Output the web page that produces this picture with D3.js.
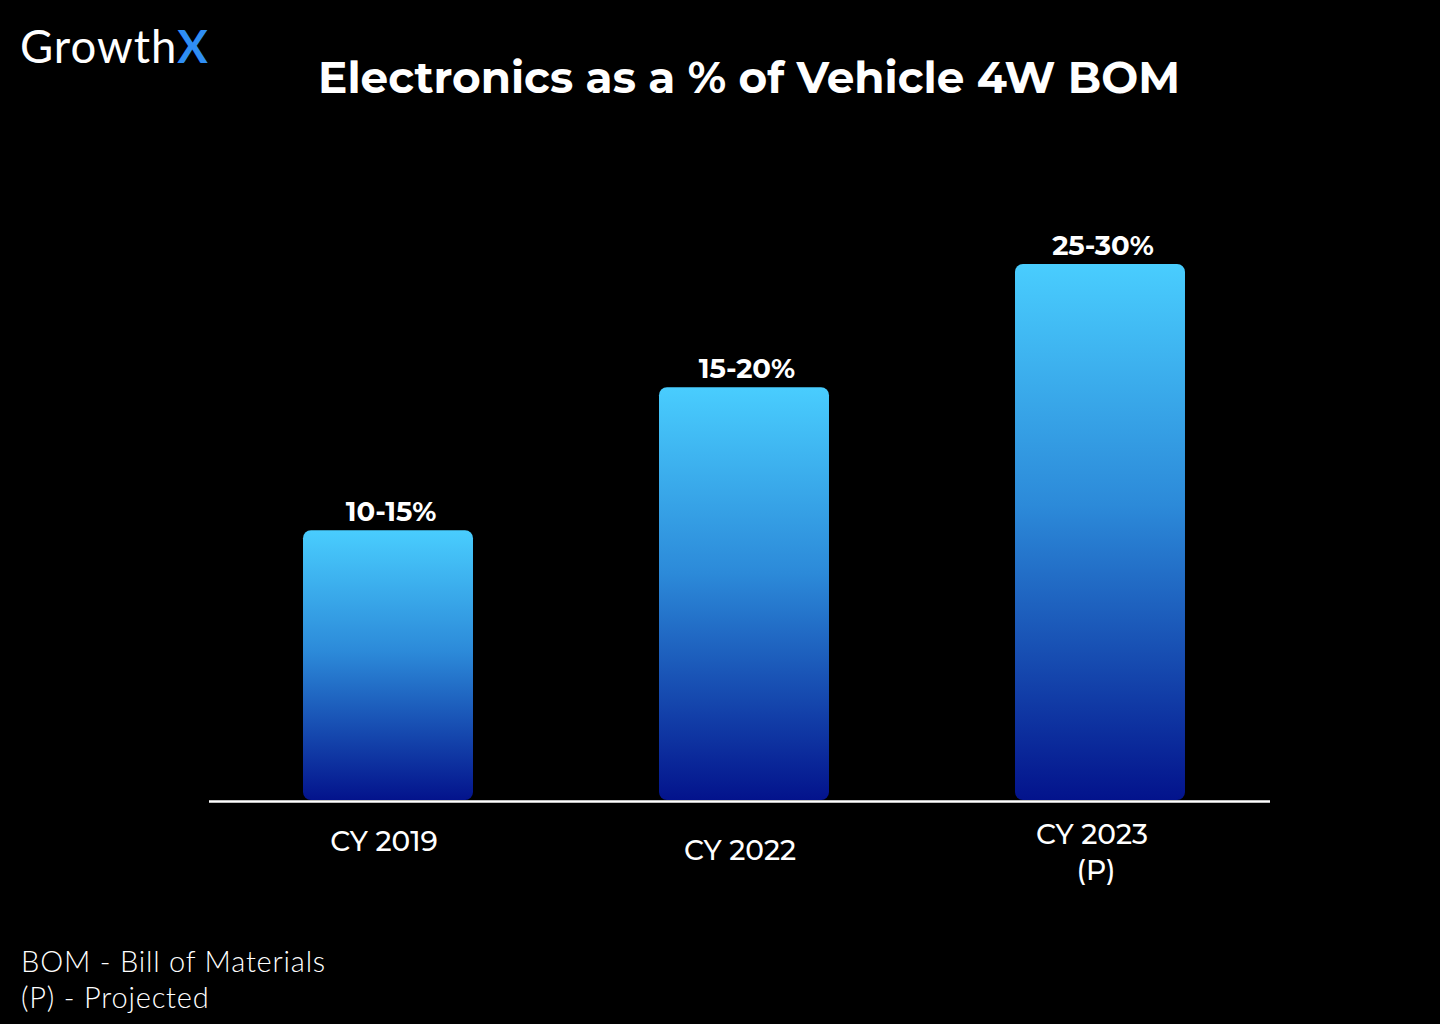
<!DOCTYPE html>
<html>
<head>
<meta charset="utf-8">
<script src="https://cdn.jsdelivr.net/npm/d3@7"></script>
<style>
  html, body { margin: 0; padding: 0; background: #000; }
  svg { display: block; }
</style>
</head>
<body>
<svg id="chart" width="1440" height="1024"></svg>
<script>
// ---- data ----
const categories = ["CY 2019", "CY 2022", "CY 2023\n(P)"];
const values = [15.1, 23.1, 30];            // bar heights (relative)
const valueLabels = ["10-15%", "15-20%", "25-30%"];
const title = "Electronics as a % of Vehicle 4W BOM";
const footnotes = ["BOM - Bill of Materials", "(P) - Projected"];

// ---- layout ----
const W = 1440, H = 1024;
const baseY = 800;
const svg = d3.select("#chart");
svg.append("rect").attr("width", W).attr("height", H).attr("fill", "#000");

const defs = svg.append("defs");
const grad = defs.append("linearGradient").attr("id", "barGrad")
  .attr("x1", 0).attr("y1", 0).attr("x2", 0).attr("y2", 1);
grad.append("stop").attr("offset", "0%").attr("stop-color", "#49CDFE");
grad.append("stop").attr("offset", "45%").attr("stop-color", "#2C8AD9");
grad.append("stop").attr("offset", "100%").attr("stop-color", "#03138C");

const x = d3.scaleBand().domain(categories).range([210, 1278])
  .paddingInner(0.5225).paddingOuter(0.26125);
const y = d3.scaleLinear().domain([0, 30]).range([baseY, 264]);

const fontMain = "'Montserrat', Lato, 'Noto Sans', sans-serif";

function fitText(sel, width) {
  const node = sel.node();
  const fs = parseFloat(sel.attr("font-size"));
  const w = node.getComputedTextLength();
  sel.attr("font-size", (fs * width / w).toFixed(2));
}

// logo
const logo = svg.append("text").attr("x", 20).attr("y", 63)
  .attr("font-family", "Lato, sans-serif").attr("font-size", 44).attr("fill", "#fff");
logo.append("tspan").attr("font-weight", 400).attr("letter-spacing", 1).text("Growth");
logo.append("tspan").attr("font-weight", 700).attr("fill", "#2F8EF4").text("X");
fitText(logo, 188);

// title
const t = svg.append("text").attr("x", 749).attr("y", 93).attr("text-anchor", "middle")
  .attr("font-family", fontMain).attr("font-weight", 700).attr("font-size", 50)
  .attr("fill", "#fff").text(title);
fitText(t, 862);

// bars
svg.append("g").selectAll("rect").data(values).join("rect")
  .attr("x", (d, i) => x(categories[i]))
  .attr("y", d => y(d))
  .attr("width", x.bandwidth())
  .attr("height", d => baseY - y(d))
  .attr("rx", 8).attr("ry", 8)
  .attr("fill", "url(#barGrad)");

// value labels
svg.append("g").selectAll("text").data(values).join("text")
  .attr("x", (d, i) => x(categories[i]) + x.bandwidth() / 2 + 3)
  .attr("y", d => y(d) - 9)
  .attr("text-anchor", "middle")
  .attr("font-family", fontMain).attr("font-weight", 700).attr("font-size", 27.5)
  .attr("fill", "#fff")
  .text((d, i) => valueLabels[i]);

// baseline
svg.append("line").attr("x1", 209).attr("x2", 1270).attr("y1", baseY + 1.5).attr("y2", baseY + 1.5)
  .attr("stroke", "#fff").attr("stroke-width", 2.5);

// category labels
const labelY = [851, 860, 844];
const labelDx = [-4, -4, -8];
const cat = svg.append("g").selectAll("text").data(categories).join("text")
  .attr("x", (d, i) => x(d) + x.bandwidth() / 2 + labelDx[i])
  .attr("y", (d, i) => labelY[i])
  .attr("text-anchor", "middle")
  .attr("font-family", fontMain).attr("font-weight", 500).attr("font-size", 28)
  .attr("fill", "#fff");
cat.each(function (d) {
  const lines = d.split("\n");
  const sel = d3.select(this);
  lines.forEach((l, j) => {
    sel.append("tspan").attr("x", sel.attr("x")).attr("dx", j ? 4 : 0)
      .attr("dy", j ? 36 : 0).text(l);
  });
});

// footnotes
const fn = svg.append("g").selectAll("text").data(footnotes).join("text")
  .attr("x", 21).attr("y", (d, i) => 972 + i * 36)
  .attr("font-family", "Lato, sans-serif").attr("font-weight", 300).attr("font-size", 29)
  .attr("letter-spacing", 0.8)
  .attr("fill", "#fff").text(d => d);
fitText(d3.select(fn.nodes()[0]), 305);
d3.select(fn.nodes()[1]).attr("font-size", d3.select(fn.nodes()[0]).attr("font-size"));
</script>
</body>
</html>
